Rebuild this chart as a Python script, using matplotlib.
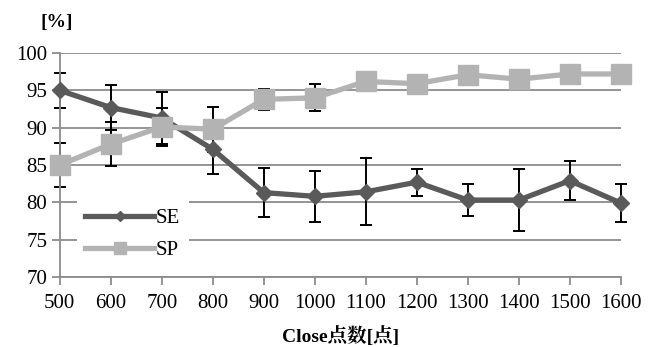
import matplotlib.pyplot as plt

plt.rcParams['font.family'] = ['Liberation Serif', 'Noto Serif CJK JP', 'Noto Sans CJK JP']

points = [500, 600, 700, 800, 900, 1000, 1100, 1200, 1300, 1400, 1500, 1600]
se = [95.0, 92.7, 91.3, 87.1, 81.3, 80.8, 81.4, 82.7, 80.3, 80.3, 82.9, 79.9]
se_err = [2.3, 3.0, 3.5, 3.3, 3.3, 3.4, 4.5, 1.8, 2.2, 4.2, 2.6, 2.5]
sp = [85.0, 87.8, 90.1, 89.8, 93.8, 94.0, 96.2, 95.9, 97.1, 96.5, 97.2, 97.2]
sp_err = [3.0, 3.0, 2.6, 3.0, 1.4, 1.8, 0.5, 0.5, 0.5, 0.5, 0.5, 0.5]
y_ticks = [70, 75, 80, 85, 90, 95, 100]

se_color = '#5a5a5a'
sp_color = '#b3b3b3'
axis_color = '#8c8c8c'

fig = plt.figure(figsize=(6.5, 3.47), dpi=100)
ax = fig.add_axes([0.092, 0.202, 0.863, 0.645])

# error bars first so the markers sit on top of them
ax.errorbar(points, se, yerr=se_err, fmt='none', ecolor='black',
            elinewidth=1.4, capsize=4, capthick=1.4, zorder=2, clip_on=False)
ax.errorbar(points, sp, yerr=sp_err, fmt='none', ecolor='black',
            elinewidth=1.4, capsize=4, capthick=1.4, zorder=2, clip_on=False)

ax.plot(points, se, color=se_color, linewidth=3.8, marker='D', markersize=8,
        label='SE', zorder=3, clip_on=False)
ax.plot(points, sp, color=sp_color, linewidth=3.8, marker='s', markersize=14,
        label='SP', zorder=4, clip_on=False)

ax.set_xlim(500, 1600)
ax.set_ylim(70, 100)
ax.set_xticks(points)
ax.set_yticks(y_ticks)
ax.yaxis.grid(True, color=axis_color, linewidth=1.3)
ax.set_axisbelow(True)

for side in ['top', 'right']:
    ax.spines[side].set_visible(False)
for side in ['left', 'bottom']:
    ax.spines[side].set_color(axis_color)
    ax.spines[side].set_linewidth(1.3)
ax.tick_params(axis='both', colors=axis_color, width=1.3,
               labelsize=15, labelcolor='black')
ax.tick_params(axis='x', direction='out', length=6, pad=6)
ax.tick_params(axis='y', direction='out', length=6, pad=3)

ax.set_xlabel('Close点数[点]', fontsize=14, fontweight='bold', labelpad=10)
fig.text(0.062, 0.935, '[%]', fontsize=14, fontweight='bold', ha='left', va='center')

leg = ax.legend(loc='lower left', bbox_to_anchor=(0.012, -0.01), frameon=True,
                fontsize=15, handlelength=3.3, handletextpad=0.1,
                labelspacing=0.6, borderpad=0.4, fancybox=False, markerscale=0.6)
leg.get_frame().set_edgecolor('none')
leg.get_frame().set_facecolor('white')
leg.get_frame().set_alpha(1)

plt.savefig('out.png', dpi=100)
